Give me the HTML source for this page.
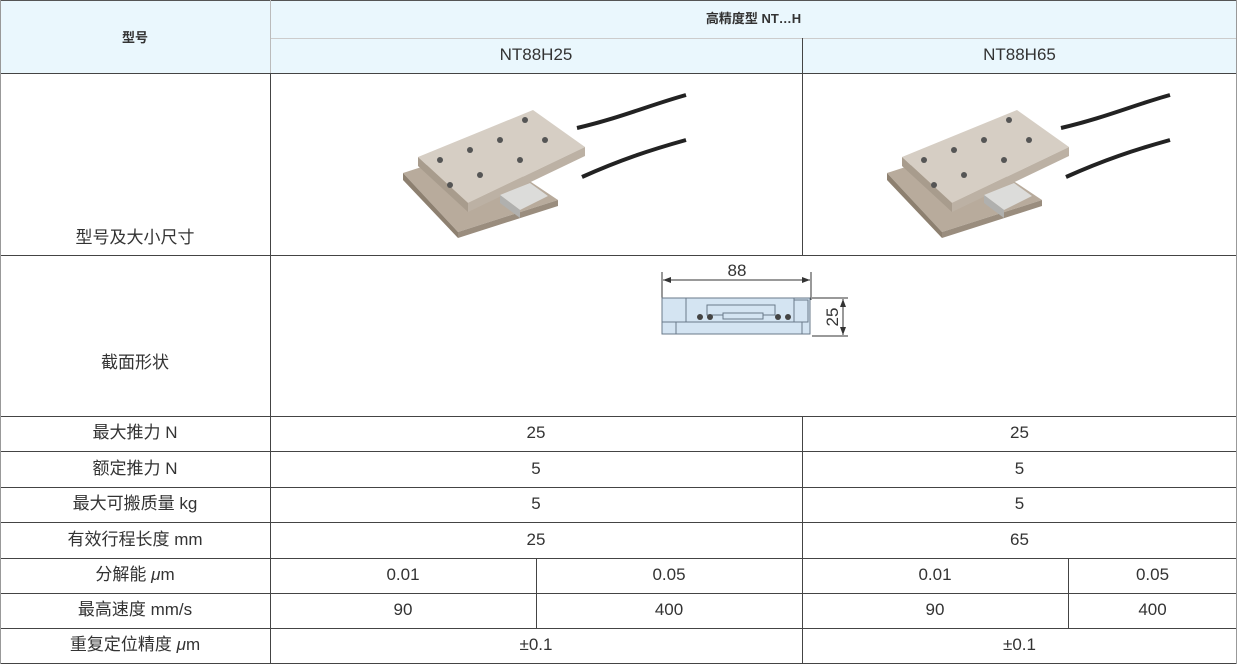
<!DOCTYPE html>
<html><head><meta charset="utf-8"><style>
body{margin:0;width:1237px;height:665px;background:#fff;position:relative;overflow:hidden;font-family:"Liberation Sans","Noto Sans CJK SC",sans-serif;color:#333}
.h{position:absolute;height:1px;background:#444}
.v{position:absolute;width:1px;background:#444}
.t{position:absolute;text-align:center;font-size:17px;line-height:20px}
.b{font-weight:bold;font-size:13px}
</style></head><body>
<div style="position:absolute;left:0;top:0;width:1237px;height:73px;background:#eaf7fd"></div>
<div class="h" style="left:0;top:0;width:1237px;background:#555"></div>
<div class="h" style="left:270px;top:38px;width:967px;background:#ccc"></div>
<div class="h" style="left:0;top:73px;width:1237px"></div>
<div class="h" style="left:0;top:255px;width:1237px"></div>
<div class="h" style="left:0;top:416px;width:1237px"></div>
<div class="h" style="left:0;top:451px;width:1237px"></div>
<div class="h" style="left:0;top:487px;width:1237px"></div>
<div class="h" style="left:0;top:522px;width:1237px"></div>
<div class="h" style="left:0;top:558px;width:1237px"></div>
<div class="h" style="left:0;top:593px;width:1237px"></div>
<div class="h" style="left:0;top:628px;width:1237px"></div>
<div class="h" style="left:0;top:663px;width:1237px"></div>
<div class="v" style="left:0;top:0;height:664px;background:#999"></div>
<div class="v" style="left:270px;top:0;height:73px;background:#bbb"></div>
<div class="v" style="left:270px;top:73px;height:591px"></div>
<div class="v" style="left:802px;top:38px;height:217px"></div>
<div class="v" style="left:802px;top:416px;height:248px"></div>
<div class="v" style="left:536px;top:558px;height:70px"></div>
<div class="v" style="left:1068px;top:558px;height:70px"></div>
<div class="v" style="left:1236px;top:0;height:664px;background:#999"></div>

<div class="t b" style="left:0;top:28px;width:270px">型号</div>
<div class="t b" style="left:270px;top:9px;width:967px">高精度型 NT…H</div>
<div class="t" style="left:270px;top:45px;width:532px">NT88H25</div>
<div class="t" style="left:802px;top:45px;width:435px">NT88H65</div>
<div class="t" style="left:0;top:228px;width:270px">型号及大小尺寸</div>
<div class="t" style="left:0;top:353px;width:270px">截面形状</div>

<div class="t" style="left:0;top:423px;width:270px">最大推力 N</div>
<div class="t" style="left:270px;top:423px;width:532px">25</div>
<div class="t" style="left:802px;top:423px;width:435px">25</div>
<div class="t" style="left:0;top:459px;width:270px">额定推力 N</div>
<div class="t" style="left:270px;top:459px;width:532px">5</div>
<div class="t" style="left:802px;top:459px;width:435px">5</div>
<div class="t" style="left:0;top:494px;width:270px">最大可搬质量 kg</div>
<div class="t" style="left:270px;top:494px;width:532px">5</div>
<div class="t" style="left:802px;top:494px;width:435px">5</div>
<div class="t" style="left:0;top:530px;width:270px">有效行程长度 mm</div>
<div class="t" style="left:270px;top:530px;width:532px">25</div>
<div class="t" style="left:802px;top:530px;width:435px">65</div>
<div class="t" style="left:0;top:565px;width:270px">分解能 <i>μ</i>m</div>
<div class="t" style="left:270px;top:565px;width:266px">0.01</div>
<div class="t" style="left:536px;top:565px;width:266px">0.05</div>
<div class="t" style="left:802px;top:565px;width:266px">0.01</div>
<div class="t" style="left:1068px;top:565px;width:169px">0.05</div>
<div class="t" style="left:0;top:600px;width:270px">最高速度 mm/s</div>
<div class="t" style="left:270px;top:600px;width:266px">90</div>
<div class="t" style="left:536px;top:600px;width:266px">400</div>
<div class="t" style="left:802px;top:600px;width:266px">90</div>
<div class="t" style="left:1068px;top:600px;width:169px">400</div>
<div class="t" style="left:0;top:635px;width:270px">重复定位精度 <i>μ</i>m</div>
<div class="t" style="left:270px;top:635px;width:532px">±0.1</div>
<div class="t" style="left:802px;top:635px;width:435px">±0.1</div>

<svg style="position:absolute;left:0;top:0" width="1237" height="665">
<defs>
<g id="stage">
<path d="M577 128 C620 118 650 105 686 95" stroke="#222" stroke-width="4" fill="none"/>
<path d="M582 177 C620 160 650 150 686 140" stroke="#222" stroke-width="4" fill="none"/>
<polygon points="403,173 480,148 558,200 458,232" fill="#b8ab9c"/>
<polygon points="403,173 458,232 458,238 403,180" fill="#8d8070"/>
<polygon points="458,232 558,200 558,206 458,238" fill="#9a8d7e"/>
<polygon points="418,157 533,110 585,147 468,203" fill="#d6cec4"/>
<polygon points="418,157 468,203 468,212 418,166" fill="#a89c8d"/>
<polygon points="468,203 585,147 585,156 468,212" fill="#bcb1a4"/>
<polygon points="500,195 530,183 548,196 520,210" fill="#dcdcda"/>
<polygon points="500,195 520,210 520,218 500,203" fill="#b0b0ae"/>
<circle cx="450" cy="185" r="3" fill="#555"/><circle cx="480" cy="175" r="3" fill="#555"/><circle cx="520" cy="160" r="3" fill="#555"/><circle cx="545" cy="140" r="3" fill="#555"/><circle cx="500" cy="140" r="3" fill="#555"/><circle cx="470" cy="150" r="3" fill="#555"/><circle cx="525" cy="120" r="3" fill="#555"/><circle cx="440" cy="160" r="3" fill="#555"/>
</g>
</defs>
<use href="#stage"/>
<use href="#stage" transform="translate(484,0)"/>
<g stroke="#333" stroke-width="1" fill="none">
<line x1="662" y1="272" x2="662" y2="300"/><line x1="811" y1="272" x2="811" y2="300"/>
<line x1="663" y1="280" x2="810" y2="280"/>
<line x1="812" y1="298" x2="848" y2="298"/><line x1="812" y1="336" x2="848" y2="336"/>
<line x1="843" y1="299" x2="843" y2="335"/>
</g>
<polygon points="663,280 671,277 671,283" fill="#333"/><polygon points="810,280 802,277 802,283" fill="#333"/>
<polygon points="843,299 840,307 846,307" fill="#333"/><polygon points="843,335 840,327 846,327" fill="#333"/>
<text x="737" y="276" font-size="17" text-anchor="middle" fill="#333" font-family="Liberation Sans">88</text>
<text x="838" y="317" font-size="17" text-anchor="middle" fill="#333" font-family="Liberation Sans" transform="rotate(-90 838 317)" dy="0">25</text>
<g stroke="#6a7a8a" stroke-width="1" fill="#d4e4f2">
<rect x="662" y="298" width="148" height="36"/>
<rect x="662" y="298" width="24" height="24"/>
<rect x="686" y="298" width="108" height="24"/>
<rect x="794" y="300" width="14" height="22"/>
<rect x="676" y="322" width="126" height="12"/>
<rect x="707" y="305" width="68" height="10"/>
<rect x="723" y="313" width="40" height="6"/>
</g>
<g fill="#444"><circle cx="700" cy="317" r="3"/><circle cx="710" cy="317" r="3"/><circle cx="778" cy="317" r="3"/><circle cx="788" cy="317" r="3"/></g>
</svg>
</body></html>
